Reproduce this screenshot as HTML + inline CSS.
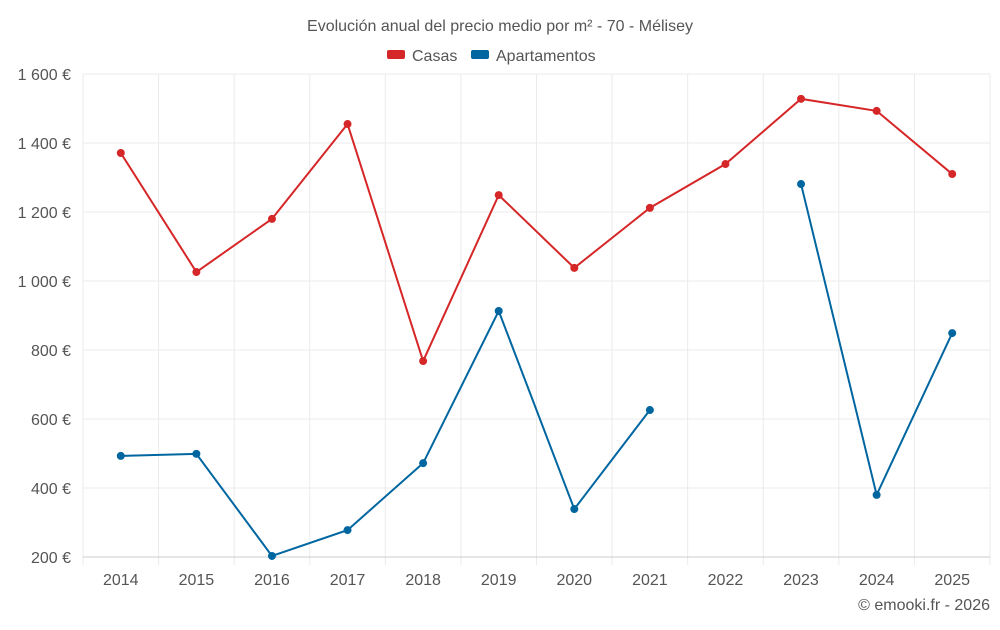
<!DOCTYPE html>
<html><head><meta charset="utf-8"><style>
body{margin:0;background:#fff;font-family:"Liberation Sans",sans-serif}
svg text{font-family:"Liberation Sans",sans-serif}
</style></head><body>
<svg id="c" width="1000" height="625" xmlns="http://www.w3.org/2000/svg">
<text x="500" y="31" text-anchor="middle" font-size="16" fill="#555">Evolución anual del precio medio por m² - 70 - Mélisey</text>
<g><rect x="387" y="50" width="18" height="9" rx="2" fill="#d62728"/><text x="412" y="61" font-size="16" fill="#555">Casas</text></g>
<g><rect x="471" y="50" width="18" height="9" rx="2" fill="#0066a0"/><text x="496" y="61" font-size="16" fill="#555">Apartamentos</text></g>
<g id="grid"></g><g id="axes"></g><g id="series"></g>
<text x="990" y="610" text-anchor="end" font-size="16" fill="#555">© emooki.fr - 2026</text>
</svg>
<script>
const years=[2014,2015,2016,2017,2018,2019,2020,2021,2022,2023,2024,2025];
const casas=[1371,1026,1180,1455,768,1249,1038,1212,1339,1528,1493,1310];
const apartamentos=[493,499,203,278,472,913,339,626,null,1281,380,849];
const yTicks=[200,400,600,800,1000,1200,1400,1600];
const yLabels=["200 €","400 €","600 €","800 €","1 000 €","1 200 €","1 400 €","1 600 €"];
const L=83,R=990,T=74,B=557,ymin=200,ymax=1600;
const bw=(R-L)/years.length;
const x=i=>L+bw*(i+0.5);
const y=v=>B-(v-ymin)/(ymax-ymin)*(B-T);
const NS="http://www.w3.org/2000/svg";
function mk(p,t,a){const e=document.createElementNS(NS,t);for(const k in a)e.setAttribute(k,a[k]);p.appendChild(e);return e;}
const g=document.getElementById('grid'),ax=document.getElementById('axes'),s=document.getElementById('series');
yTicks.forEach((v,i)=>{
 const l=mk(g,'line',{x1:L,x2:R,y1:y(v),y2:y(v),stroke:'#ebebeb'});
 
 
 const t=mk(ax,'text',{x:L-12,y:y(v)+6,'text-anchor':'end','font-size':16,fill:'#555'});t.textContent=yLabels[i];
 
 
});
for(let i=0;i<=years.length;i++){
 const l=mk(g,'line',{x1:L+bw*i,x2:L+bw*i,y1:T,y2:B+8,stroke:'#ebebeb'});
 
 
}
years.forEach((yr,i)=>{
 const t=mk(ax,'text',{x:x(i),y:585,'text-anchor':'middle','font-size':16,fill:'#555'});t.textContent=yr;
 
 
});
const axl=mk(ax,'line',{x1:L,x2:R,y1:B,y2:B,stroke:'#ccc'});


function draw(data,color,name){
 let d='',pen=false;
 data.forEach((v,i)=>{if(v==null){pen=false;return;}d+=(pen?'L':'M')+x(i)+' '+y(v)+' ';pen=true;});
 const p=mk(s,'path',{d:d,fill:'none',stroke:color,'stroke-width':2});
 
 
 data.forEach((v,i)=>{if(v==null)return;
  const c=mk(s,'circle',{cx:x(i),cy:y(v),r:4,fill:color});
  
  
 });
}
draw(casas,'#d62728','casas');
draw(apartamentos,'#0066a0','apartamentos');
</script>
</body></html>
